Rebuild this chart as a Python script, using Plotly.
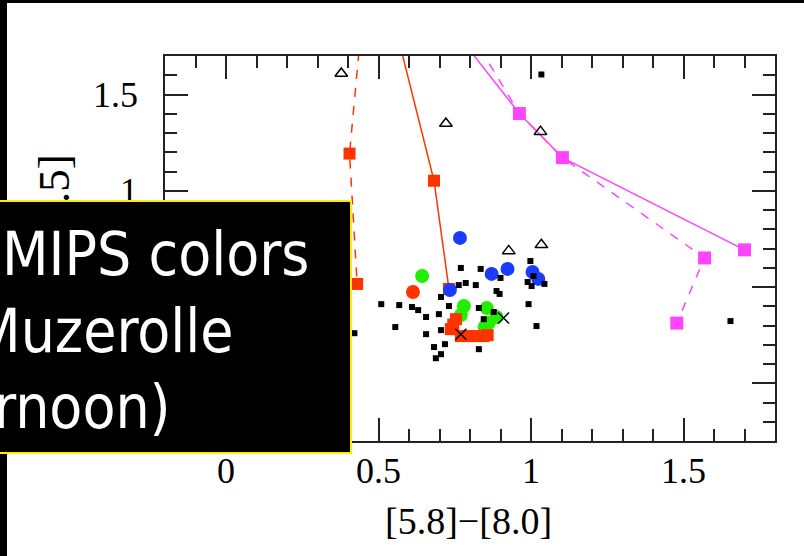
import plotly.graph_objects as go

# ---------------- data ----------------
# model tracks, x = [5.8]-[8.0], y = [3.6]-[4.5]
red_dash_x = [0.45, 0.434, 0.405, 0.430]
red_dash_y = [2.00, 1.690, 1.193, 0.516]
red_dash_sq = [False, False, True, True]

red_solid_x = [0.55, 0.581, 0.682, 0.731]
red_solid_y = [1.90, 1.690, 1.052, 0.490]
red_solid_sq = [False, False, True, True]

mag_solid_x = [0.715, 0.962, 1.103, 1.700]
mag_solid_y = [1.900, 1.401, 1.172, 0.693]
mag_dash_x = [0.772, 0.962, 1.103, 1.569, 1.478]
mag_dash_y = [1.900, 1.401, 1.172, 0.651, 0.3125]
mag_sq_x = [0.962, 1.103, 1.700, 1.569, 1.478]
mag_sq_y = [1.401, 1.172, 0.693, 0.651, 0.3125]

# observed sources
black_x = [0.770, 0.835, 0.900, 0.763, 0.786, 0.819, 0.705, 0.887, 0.897, 0.509,
           0.568, 0.610, 0.630, 0.731, 0.698, 0.656, 0.829, 0.878, 0.845, 0.992,
           0.555, 0.705, 0.656, 1.018, 0.682, 0.718, 0.705, 0.688, 0.829, 0.998,
           0.989, 1.008, 1.002, 1.044, 1.034, 1.654, 0.421]
black_y = [0.599, 0.594, 0.547, 0.510, 0.521, 0.510, 0.448, 0.479, 0.464, 0.411,
           0.406, 0.396, 0.380, 0.401, 0.359, 0.344, 0.391, 0.370, 0.333, 0.411,
           0.292, 0.276, 0.255, 0.297, 0.188, 0.203, 0.151, 0.130, 0.177, 0.635,
           0.526, 0.557, 0.505, 0.516, 1.604, 0.323, 0.260]

cross_x = [0.910, 0.770]
cross_y = [0.339, 0.255]

tri_x = [0.378, 0.721, 1.031, 0.927, 1.034]
tri_y = [1.609, 1.349, 1.307, 0.6875, 0.719]

blue_x = [0.767, 0.734, 0.871, 0.923, 1.005, 1.024]
blue_y = [0.755, 0.484, 0.568, 0.594, 0.578, 0.542]

green_x = [0.643, 0.780, 0.770, 0.855, 0.887, 0.861, 0.848]
green_y = [0.557, 0.401, 0.354, 0.391, 0.344, 0.313, 0.292]

redc_x = [0.613]
redc_y = [0.474]
redsq_x = [0.754, 0.745, 0.737, 0.770, 0.795, 0.820, 0.845, 0.858]
redsq_y = [0.333, 0.305, 0.281, 0.245, 0.245, 0.245, 0.245, 0.250]

x_ticks = [0, 0.5, 1, 1.5]
x_ticklabels = ["0", "0.5", "1", "1.5"]
y_ticks = [0, 0.5, 1, 1.5]
y_ticklabels = ["0", "0.5", "1", "1.5"]

x_title = "[5.8]\u2212[8.0]"
y_title = "[3.6]\u2212[4.5]"
slide_lines = ["MIPS colors", "(Muzerolle", "this afternoon)"]

# ---------------- styles ----------------
RED = "#ff3300"
MAG = "#ff44ff"
BLUE = "#1a3cff"
GREEN = "#22ee00"
SERIF = "Liberation Serif, Times New Roman, serif"

fig = go.Figure()

def sq_only(xs, ys, flags):
    return [x for x, f in zip(xs, flags) if f], [y for y, f in zip(ys, flags) if f]

fig.add_trace(go.Scatter(x=red_dash_x, y=red_dash_y, mode="lines",
                         line=dict(color=RED, width=1.5, dash="dash")))
fig.add_trace(go.Scatter(x=red_solid_x, y=red_solid_y, mode="lines",
                         line=dict(color=RED, width=1.5)))
fig.add_trace(go.Scatter(x=mag_solid_x, y=mag_solid_y, mode="lines",
                         line=dict(color=MAG, width=1.5)))
fig.add_trace(go.Scatter(x=mag_dash_x, y=mag_dash_y, mode="lines",
                         line=dict(color=MAG, width=1.5, dash="dash")))

rx, ry = sq_only(red_dash_x, red_dash_y, red_dash_sq)
rx2, ry2 = sq_only(red_solid_x, red_solid_y, red_solid_sq)
fig.add_trace(go.Scatter(x=rx + rx2, y=ry + ry2, mode="markers",
                         marker=dict(symbol="square", size=12, color=RED, line=dict(width=0))))
fig.add_trace(go.Scatter(x=mag_sq_x, y=mag_sq_y, mode="markers",
                         marker=dict(symbol="square", size=13, color=MAG, line=dict(width=0))))

fig.add_trace(go.Scatter(x=blue_x, y=blue_y, mode="markers",
                         marker=dict(symbol="circle", size=14, color=BLUE, line=dict(width=0))))
fig.add_trace(go.Scatter(x=green_x, y=green_y, mode="markers",
                         marker=dict(symbol="circle", size=14, color=GREEN, line=dict(width=0))))
fig.add_trace(go.Scatter(x=redc_x, y=redc_y, mode="markers",
                         marker=dict(symbol="circle", size=14, color=RED, line=dict(width=0))))
fig.add_trace(go.Scatter(x=redsq_x, y=redsq_y, mode="markers",
                         marker=dict(symbol="square", size=12, color=RED, line=dict(width=0))))

fig.add_trace(go.Scatter(x=black_x, y=black_y, mode="markers",
                         marker=dict(symbol="square", size=6, color="black", line=dict(width=0))))
fig.add_trace(go.Scatter(x=cross_x, y=cross_y, mode="markers",
                         marker=dict(symbol="x-thin", size=11, color="black",
                                     line=dict(width=1.5, color="black"))))
fig.add_trace(go.Scatter(x=tri_x, y=tri_y, mode="markers",
                         marker=dict(symbol="triangle-up-open", size=11, color="black",
                                     line=dict(width=1.5, color="black"))))

axis_common = dict(
    showgrid=False, zeroline=False, showline=True, linecolor="#222", linewidth=1.5,
    mirror="ticks", ticks="inside", ticklen=23, tickwidth=1.5, tickcolor="#222",
    tickfont=dict(family=SERIF, size=36, color="black"),
    minor=dict(ticks="inside", ticklen=12, tickwidth=1.5, tickcolor="#222", dtick=0.1, tick0=0),
)

fig.update_xaxes(range=[-0.2, 1.8], tickvals=x_ticks, ticktext=x_ticklabels,
                 ticklabelstandoff=-3, **axis_common)
fig.update_yaxes(range=[-0.3, 1.7], tickvals=y_ticks, ticktext=y_ticklabels,
                 ticklabelstandoff=18, **axis_common)

PL, PR, PT, PB = 165, 29, 56, 115
W, H = 804, 556
PW, PH = W - PL - PR, H - PT - PB

def px(xp):
    return (xp - PL) / PW

def py(yp):
    return (H - PB - yp) / PH

annotations = [
    dict(text=x_title, xref="paper", yref="paper", x=px(468), y=py(521),
         xanchor="center", yanchor="middle", showarrow=False,
         font=dict(family=SERIF, size=38, color="black")),
    dict(text=y_title, xref="paper", yref="paper", x=px(54), y=py(253),
         xanchor="center", yanchor="middle", showarrow=False, textangle=-90,
         font=dict(family=SERIF, size=45, color="black")),
    # black slide text box (overlapping the chart)
    dict(text=" ", xref="paper", yref="paper", x=px(-14), y=py(200),
         xanchor="left", yanchor="top", showarrow=False,
         width=362, height=250, bgcolor="black", bordercolor="#ffee00",
         borderwidth=2, borderpad=0),
]
line_right = [311, 236, 173]
line_mid = [254, 331, 407]
for t, xr, ym in zip(slide_lines, line_right, line_mid):
    annotations.append(dict(text=t, xref="paper", yref="paper", x=px(xr), y=py(ym),
                            xanchor="right", yanchor="middle", showarrow=False,
                            font=dict(family="DejaVu Sans Condensed, DejaVu Sans", size=60,
                                      color="white")))

shapes = [
    dict(type="rect", xref="paper", yref="paper", x0=px(-5), x1=px(810), y0=py(3), y1=py(-5),
         fillcolor="black", line=dict(width=0), layer="above"),
    dict(type="rect", xref="paper", yref="paper", x0=px(-5), x1=px(7), y0=py(560), y1=py(-5),
         fillcolor="black", line=dict(width=0), layer="above"),
]

fig.update_layout(
    width=W, height=H, showlegend=False,
    margin=dict(l=PL, r=PR, t=PT, b=PB),
    paper_bgcolor="white", plot_bgcolor="white",
    annotations=annotations, shapes=shapes,
)

fig.write_html("out.html", config={"displayModeBar": False},
               post_script="document.body.style.margin='0';document.body.style.overflow='hidden';")
